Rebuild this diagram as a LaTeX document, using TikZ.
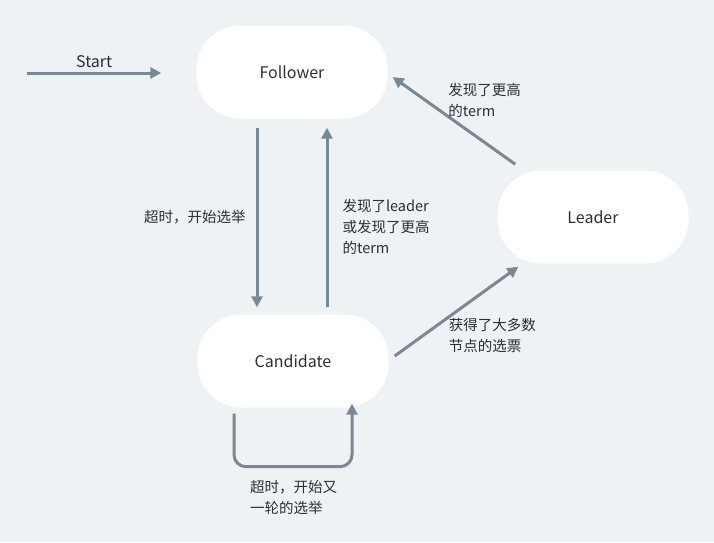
\documentclass[tikz,border=0pt]{standalone}
\usepackage{fontspec}
\setmainfont{Noto Sans CJK SC}
\usetikzlibrary{arrows.meta,positioning,calc}
\definecolor{bgcol}{HTML}{EFF2F5}
\definecolor{edgecol}{HTML}{7A8794}
\definecolor{txtcol}{HTML}{2A2F36}

\begin{document}
\begin{tikzpicture}[x=1pt,y=-1pt]
    \tikzset{state/.style={
        fill=white, rounded corners=44pt, minimum width=191pt, minimum height=93pt,
        font=\fontsize{16}{20}\selectfont, text=txtcol
      },
      trans/.style={draw=edgecol, line width=3pt, -{Triangle[length=11pt,width=11pt]}},
      lbl/.style={font=\fontsize{14.5}{21}\selectfont, text=txtcol, align=left, inner sep=0pt}
    }

    \fill[bgcol] (0,0) rectangle (714,542);
    \useasboundingbox (0,0) rectangle (714,542);

    \node[state] (F) at (292,72) {Follower};
    \node[state] (L) at (593,217) {Leader};
    \node[state] (C) at (293,361) {Candidate};

    \coordinate (S) at (27,73);
    \draw[trans] (S) -- ($(F.west)+(-35,1)$) node[midway,above=4pt,lbl,font=\fontsize{16}{20}\selectfont] {Start};

    \draw[trans] ($(F.south)+(-35,9)$) -- ($(C.north)+(-36,-7)$)
      node[midway,left=10pt,lbl] {超时，开始选举};
    \draw[trans] ($(C.north)+(34,-7)$) -- ($(F.south)+(35,9)$)
      node[midway,right=14pt,lbl,yshift=-9pt] {发现了leader\\或发现了更高\\的term};

    \draw[trans] ($(L.north west)+(18,-6)$) -- ($(F.east)+(5,5)$)
      node[pos=0.55,above right=-3pt and -1pt,lbl] {发现了更高\\的term};
    \draw[trans] ($(C.east)+(6,-5)$) -- ($(L.south west)+(21,3)$)
      node[pos=0.45,below right=1pt and -3pt,lbl] {获得了大多数\\节点的选票};

    \draw[trans, rounded corners=12pt] ($(C.south)+(-59,6)$) -- ++(0,53) -| ($(C.south)+(59,-4)$);
    \node[lbl, anchor=north west] (loop) at (250,480) {超时，开始又\\一轮的选举};
  \end{tikzpicture}
\end{document}
